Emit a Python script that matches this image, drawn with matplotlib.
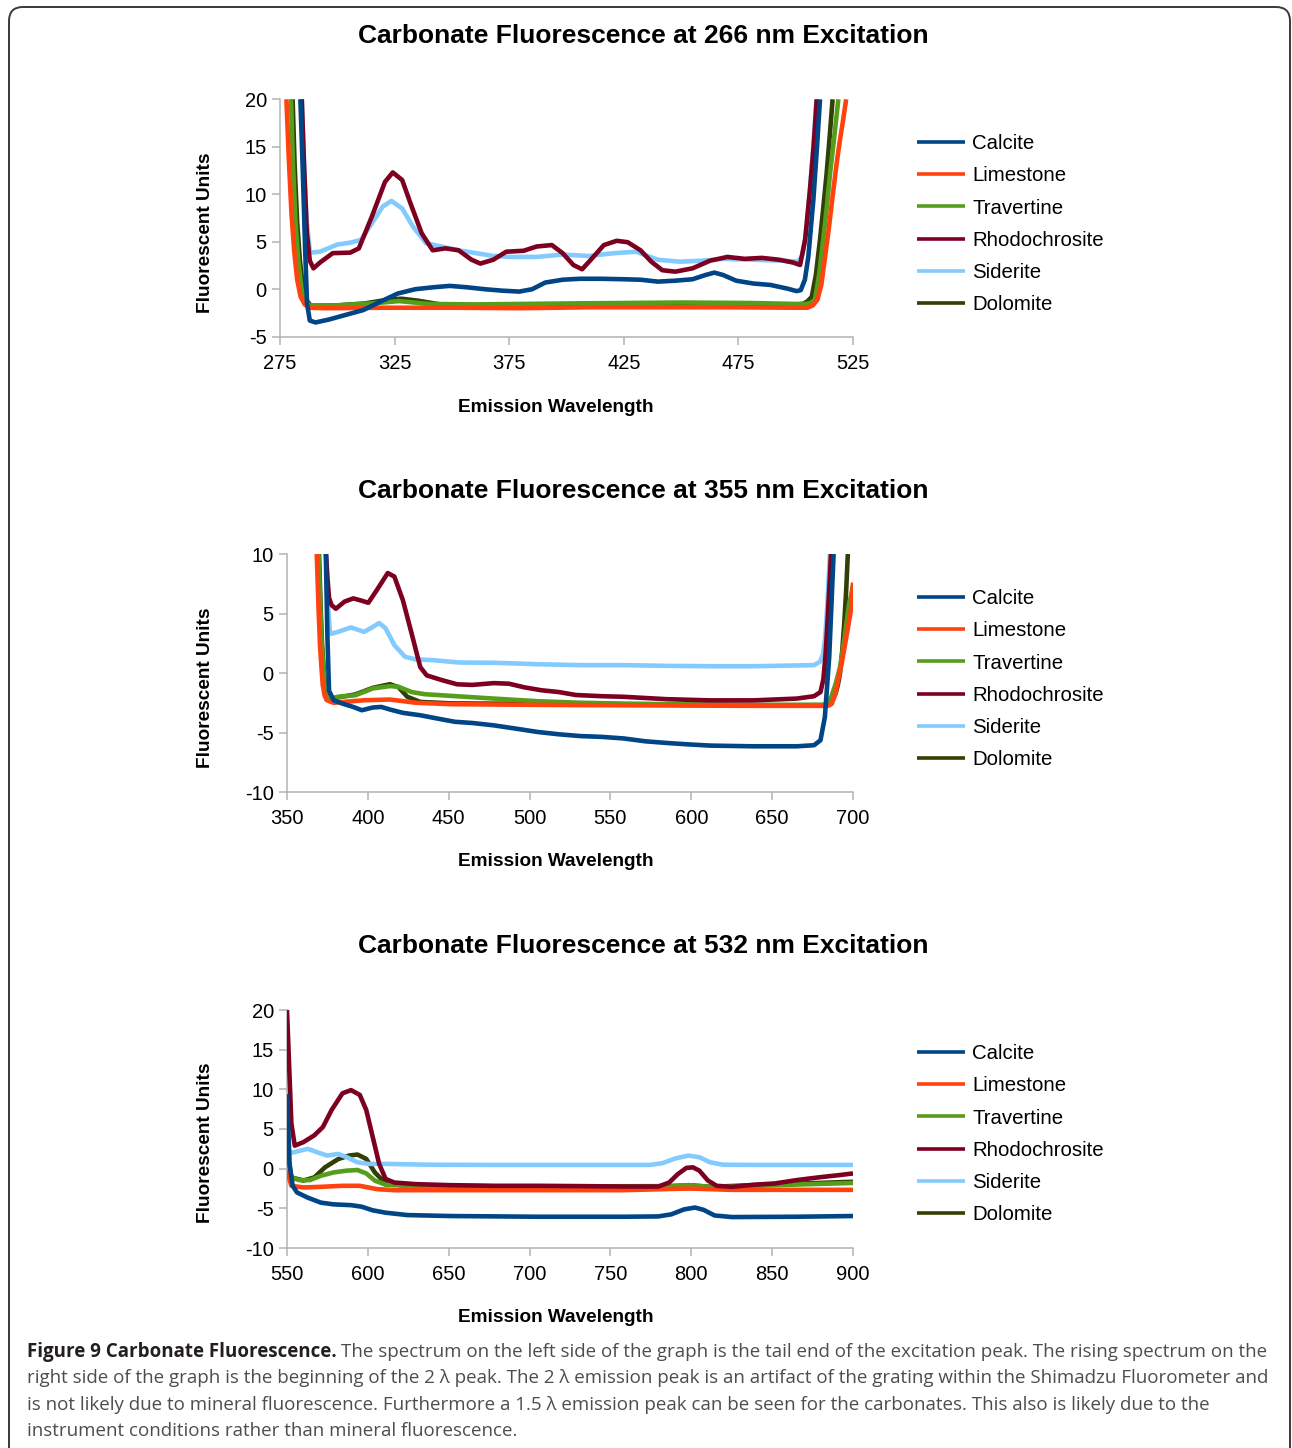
"""Carbonate fluorescence spectra at three excitation wavelengths (Figure 9)."""

import matplotlib

matplotlib.use("Agg")
import matplotlib.pyplot as plt  # noqa: E402
from matplotlib.patches import FancyBboxPatch  # noqa: E402
from matplotlib.transforms import IdentityTransform  # noqa: E402

W, H = 1292, 1448

SERIES = ["Calcite", "Limestone", "Travertine", "Rhodochrosite", "Siderite", "Dolomite"]
COLORS = ["#004586", "#ff420e", "#579d1c", "#7e0021", "#83caff", "#314004"]
ZORDER = [6, 4, 3, 5, 2.5, 2]

TITLES = [
    "Carbonate Fluorescence at 266 nm Excitation",
    "Carbonate Fluorescence at 355 nm Excitation",
    "Carbonate Fluorescence at 532 nm Excitation",
]
XLIMS = [(275, 525), (350, 700), (550, 900)]
XTICKS = [[275, 325, 375, 425, 475, 525],
          [350, 400, 450, 500, 550, 600, 650, 700],
          [550, 600, 650, 700, 750, 800, 850, 900]]
YLIMS = [(-5, 20), (-10, 10), (-10, 20)]
YTICKS = [[-5, 0, 5, 10, 15, 20], [-10, -5, 0, 5, 10], [-10, -5, 0, 5, 10, 15, 20]]

# ---- 266 nm excitation ----
p1_calcite_x = [283.9, 285.0, 286.0, 286.8, 288.0, 290.5, 296.2, 303.7, 311.3, 318.9, 326.4, 334.0,
                341.6, 349.1, 356.7, 364.3, 371.8, 379.4, 385.0, 390.7, 398.3, 405.9, 415.3, 424.8,
                432.3, 439.9, 447.5, 455.0, 460.7, 464.5, 468.3, 474.0, 481.5, 489.0, 496.6, 500.4,
                502.2, 504.0, 505.5, 507.7, 509.3, 510.6]
p1_calcite_y = [20, 12, 4, -1.5, -3.3, -3.5, -3.2, -2.7, -2.2, -1.3, -0.45, 0.0,
                0.2, 0.35, 0.2, 0.0, -0.15, -0.25, 0.0, 0.7, 1.0, 1.1, 1.1, 1.05,
                1.0, 0.8, 0.9, 1.05, 1.5, 1.75, 1.5, 0.9, 0.6, 0.45, 0.05, -0.2,
                -0.1, 1.0, 3.4, 9.4, 15, 20]
p1_limestone_x = [277.8, 278.8, 280.0, 281.2, 282.5, 284.0, 285.8, 288.0, 295, 320, 350, 380, 410,
                  440, 470, 500, 505, 507.5, 509.5, 511.2, 512.8, 514.5, 516.4, 518.0, 519.3,
                  520.8, 522.0]
p1_limestone_y = [20, 14, 8, 4, 1.0, -0.8, -1.6, -1.95, -2.0, -1.95, -1.95, -2.0, -1.9,
                  -1.9, -1.9, -1.95, -1.95, -1.7, -1.1, 0.5, 3.4, 6.5, 10.4, 13.5, 15.7,
                  18, 20]
p1_travertine_x = [279.8, 280.7, 281.8, 283.0, 284.4, 286.0, 288.0, 300, 315, 327, 340, 360, 400,
                   450, 480, 500, 504.5, 506.5, 508.4, 510.2, 512.0, 513.5, 515.0, 516.8, 518.6]
p1_travertine_y = [20, 13, 7, 3, 0, -1.2, -1.7, -1.7, -1.5, -1.25, -1.55, -1.6, -1.5,
                   -1.4, -1.45, -1.55, -1.55, -1.45, -1.1, 1.5, 5.2, 8.5, 12.2, 16, 20]
p1_rhodo_x = [284.5, 285.5, 286.7, 288.0, 289.6, 292.4, 298.0, 305.6, 309.4, 315.0, 320.8, 324.2,
              328.3, 332.0, 336.8, 341.6, 347.2, 352.9, 358.6, 362.4, 368.0, 373.7, 381.3, 387.0,
              393.6, 398.3, 403.0, 406.8, 410.6, 416.3, 421.9, 426.7, 432.3, 437.0, 441.8, 447.5,
              455.0, 462.6, 470.2, 477.7, 485.3, 492.9, 499.0, 501.9, 504.1, 506.2, 507.8, 509.2]
p1_rhodo_y = [20, 13, 6, 3.0, 2.2, 2.8, 3.8, 3.85, 4.3, 7.6, 11.3, 12.3,
              11.5, 9.0, 5.9, 4.1, 4.3, 4.1, 3.1, 2.7, 3.1, 3.95, 4.05, 4.5,
              4.65, 3.8, 2.55, 2.1, 3.1, 4.65, 5.1, 4.95, 4.1, 2.9, 2.0, 1.85,
              2.2, 3.0, 3.4, 3.2, 3.3, 3.1, 2.8, 2.55, 5.2, 10.4, 15, 20]
p1_siderite_x = [284.5, 285.5, 286.7, 288.1, 292.4, 300.0, 305.6, 310.4, 315.0, 319.8, 323.6, 328.3,
                 333.0, 338.7, 345.3, 352.9, 360.5, 368.0, 375.6, 387.0, 398.3, 409.6, 421.0, 430.4,
                 439.9, 449.4, 458.8, 468.3, 481.5, 494.7, 501.0, 502.8, 504.5, 506.2, 507.7, 509.0]
p1_siderite_y = [20, 13, 7, 3.85, 3.95, 4.7, 4.9, 5.2, 6.9, 8.7, 9.3, 8.5,
                 6.6, 4.85, 4.5, 4.1, 3.8, 3.5, 3.4, 3.4, 3.65, 3.5, 3.8, 3.95,
                 3.1, 2.9, 3.0, 3.2, 3.1, 3.0, 2.9, 3.5, 5.8, 10.4, 15, 20]
p1_dolomite_x = [280.5, 281.4, 282.5, 283.7, 285.1, 286.7, 288.5, 300, 312, 322, 328, 335, 345,
                 360, 400, 450, 500, 503, 505, 507, 508.8, 510.6, 512.0, 513.5, 514.8, 516.1]
p1_dolomite_y = [20, 13, 7, 3, 0, -1.2, -1.75, -1.7, -1.5, -1.1, -1.0, -1.2, -1.6,
                 -1.7, -1.65, -1.55, -1.6, -1.55, -1.3, -0.8, 1.5, 5.2, 8.5, 12.2, 16, 20]

# ---- 355 nm excitation ----
p2_calcite_x = [374.0, 375.0, 376.0, 378.9, 384.2, 390.9, 396.3, 403.0, 408.3, 413.7, 421.7, 432.4,
                443.1, 453.8, 464.5, 477.9, 491.3, 504.7, 518.0, 531.4, 544.8, 558.2, 571.6, 584.9,
                598.3, 611.7, 638.4, 665.2, 675.9, 679.9, 682.6, 685.3, 688.0]
p2_calcite_y = [10, 3, -1.5, -2.3, -2.57, -2.85, -3.13, -2.9, -2.85, -3.07, -3.35, -3.55,
                -3.83, -4.1, -4.2, -4.4, -4.67, -4.95, -5.15, -5.3, -5.37, -5.5, -5.74, -5.88,
                -6.0, -6.1, -6.16, -6.16, -6.07, -5.65, -3.7, 1.36, 10]
p2_limestone_x = [368.4, 369.5, 370.4, 371.3, 372.1, 373.3, 374.5, 377.6, 378.9, 397.6, 413.7,
                  429.7, 451.1, 477.9, 531.4, 584.9, 638.4, 681.3, 684.5, 686.8, 689.0, 691.0,
                  693.0, 695.0, 697.0, 699.2, 700.0]
p2_limestone_y = [10, 5.5, 2.35, 0.5, -1.0, -1.9, -2.27, -2.45, -2.5, -2.29, -2.23,
                  -2.5, -2.62, -2.65, -2.7, -2.73, -2.76, -2.76, -2.75, -2.6, -1.8, -0.45,
                  0.8, 2.35, 3.9, 5.7, 7.6]
p2_travertine_x = [369.5, 370.6, 371.5, 372.4, 373.3, 374.5, 376.0, 381.6, 392.3, 403.0, 413.7,
                   419.0, 427.1, 435.1, 451.1, 477.9, 504.7, 531.4, 558.2, 584.9, 638.4, 681.3,
                   684.0, 686.6, 689.3, 692.0, 694.6, 697.3, 700.0]
p2_travertine_y = [10, 5.5, 2.35, 0.5, -1.0, -1.9, -2.2, -2.0, -1.87, -1.3, -1.1,
                   -1.16, -1.6, -1.78, -1.92, -2.15, -2.37, -2.5, -2.57, -2.62, -2.68, -2.68,
                   -2.6, -2.0, -0.9, 0.5, 2.8, 5.57, 7.3]
p2_rhodo_x = [374.1, 375.0, 376.0, 377.6, 380.2, 385.6, 391.0, 396.3, 400.3, 405.7, 412.3, 416.4,
              421.7, 427.1, 432.4, 436.4, 445.8, 455.2, 464.5, 477.9, 487.3, 496.6, 507.3, 518.0,
              528.7, 544.8, 558.2, 584.9, 611.7, 638.4, 665.2, 675.9, 679.9, 681.7, 683.0, 684.3,
              685.5, 686.4]
p2_rhodo_y = [10, 8, 6.3, 5.7, 5.4, 6.0, 6.27, 6.07, 5.9, 7.0, 8.4, 8.1,
              6.1, 3.3, 0.5, -0.2, -0.6, -0.95, -1.0, -0.85, -0.9, -1.2, -1.45, -1.6,
              -1.85, -1.95, -2.0, -2.2, -2.3, -2.3, -2.15, -1.95, -1.6, -0.5, 1.5, 4.5,
              7.5, 10]
p2_siderite_x = [374.3, 375.2, 376.6, 377.6, 381.6, 389.6, 397.6, 401.6, 407.0, 411.0, 416.4, 423.0,
                 429.7, 440.4, 456.5, 477.9, 504.7, 531.4, 558.2, 584.9, 611.7, 638.4, 675.9, 679.6,
                 681.5, 682.7, 683.8, 684.8, 685.7]
p2_siderite_y = [10, 6, 3.34, 3.3, 3.46, 3.83, 3.46, 3.75, 4.2, 3.75, 2.34, 1.36,
                 1.14, 1.08, 0.88, 0.86, 0.74, 0.66, 0.66, 0.6, 0.57, 0.57, 0.66, 0.95,
                 1.6, 2.9, 5.0, 7.5, 10]
p2_dolomite_x = [369.8, 370.8, 371.7, 372.6, 373.5, 374.7, 376.2, 381.6, 392.3, 403.0, 413.7, 419.0,
                 424.4, 432.4, 451.1, 504.7, 558.2, 638.4, 681.3, 685.0, 687.3, 689.3, 690.8, 692.0,
                 693.3, 694.6, 695.8, 696.8]
p2_dolomite_y = [10, 5.5, 2.35, 0.5, -1.0, -1.9, -2.2, -2.05, -1.8, -1.25, -0.94, -1.2,
                 -2.0, -2.43, -2.55, -2.6, -2.65, -2.7, -2.7, -2.6, -2.3, -1.7, -0.9, 0.0,
                 1.8, 4.2, 7.0, 10]

# ---- 532 nm excitation ----
p3_calcite_x = [550.0, 551.6, 553.5, 556.2, 562.8, 570.9, 578.9, 589.6, 596.3, 603.0, 611.0, 624.4,
                651.1, 704.7, 758.2, 779.6, 787.6, 795.6, 802.3, 807.7, 814.4, 825.1, 865.2, 900.0]
p3_calcite_y = [9.4, 0.6, -2.16, -3.0, -3.65, -4.28, -4.5, -4.6, -4.8, -5.25, -5.55, -5.85,
                -5.97, -6.06, -6.06, -6.02, -5.76, -5.13, -4.9, -5.2, -5.9, -6.1, -6.06, -5.97]
p3_limestone_x = [550.0, 552.7, 560.2, 570.9, 584.3, 595.0, 605.7, 616.4, 651.1, 758.2, 798.3,
                  825.1, 900.0]
p3_limestone_y = [-0.25, -2.16, -2.37, -2.29, -2.16, -2.16, -2.58, -2.71, -2.71, -2.71, -2.5,
                  -2.67, -2.67]
p3_travertine_x = [550.0, 552.7, 557.5, 564.2, 570.9, 578.9, 586.9, 593.6, 599.0, 604.3, 611.0,
                   624.4, 704.7, 784.9, 798.3, 811.7, 838.4, 900.0]
p3_travertine_y = [2.4, -1.1, -1.44, -1.44, -0.9, -0.47, -0.25, -0.17, -0.6, -1.5, -2.03,
                   -2.16, -2.25, -2.2, -2.08, -2.29, -2.16, -1.8]
p3_rhodo_x = [550.0, 552.7, 554.8, 560.2, 566.9, 572.2, 577.6, 584.3, 589.6, 595.0, 599.0, 603.0,
              607.0, 611.0, 616.4, 629.7, 651.1, 677.9, 704.7, 731.4, 758.2, 779.6, 786.3, 791.6,
              797.0, 801.0, 805.0, 810.3, 815.7, 825.1, 838.4, 851.8, 865.2, 878.6, 892.0, 900.0]
p3_rhodo_y = [20, 5.7, 2.9, 3.35, 4.2, 5.25, 7.4, 9.5, 9.9, 9.3, 7.4, 4.0,
              0.6, -1.3, -1.75, -1.95, -2.08, -2.16, -2.16, -2.2, -2.25, -2.25, -1.75, -0.7,
              0.1, 0.17, -0.25, -1.5, -2.16, -2.29, -2.03, -1.86, -1.44, -1.1, -0.8, -0.6]
p3_siderite_x = [550.0, 554.8, 562.8, 568.2, 574.9, 581.6, 587.0, 593.6, 600.3, 611.0, 637.8, 677.9,
                 731.4, 774.2, 782.3, 790.3, 798.3, 805.0, 811.7, 819.7, 838.4, 900.0]
p3_siderite_y = [1.9, 2.1, 2.5, 2.1, 1.65, 1.86, 1.44, 0.8, 0.6, 0.6, 0.5, 0.47,
                 0.47, 0.47, 0.7, 1.3, 1.65, 1.44, 0.8, 0.5, 0.47, 0.47]
p3_dolomite_x = [550.0, 552.7, 560.2, 566.9, 573.5, 581.6, 588.3, 593.6, 599.0, 604.3, 611.0, 624.4,
                 704.7, 784.9, 798.3, 811.7, 838.4, 900.0]
p3_dolomite_y = [0.6, -1.1, -1.5, -1.1, 0.17, 1.2, 1.65, 1.78, 1.23, -0.47, -1.86, -2.16,
                 -2.25, -2.25, -2.08, -2.29, -2.08, -1.65]

PANELS = [
    [(p1_calcite_x, p1_calcite_y), (p1_limestone_x, p1_limestone_y),
     (p1_travertine_x, p1_travertine_y), (p1_rhodo_x, p1_rhodo_y),
     (p1_siderite_x, p1_siderite_y), (p1_dolomite_x, p1_dolomite_y)],
    [(p2_calcite_x, p2_calcite_y), (p2_limestone_x, p2_limestone_y),
     (p2_travertine_x, p2_travertine_y), (p2_rhodo_x, p2_rhodo_y),
     (p2_siderite_x, p2_siderite_y), (p2_dolomite_x, p2_dolomite_y)],
    [(p3_calcite_x, p3_calcite_y), (p3_limestone_x, p3_limestone_y),
     (p3_travertine_x, p3_travertine_y), (p3_rhodo_x, p3_rhodo_y),
     (p3_siderite_x, p3_siderite_y), (p3_dolomite_x, p3_dolomite_y)],
]

CAPTION_BOLD = "Figure 9 Carbonate Fluorescence."
CAPTION_LINES = [
    "The spectrum on the left side of the graph is the tail end of the excitation peak. "
    "The rising spectrum on the",
    "right side of the graph is the beginning of the 2 \u03bb peak. The 2 \u03bb emission peak is an "
    "artifact of the grating within the Shimadzu Fluorometer and",
    "is not likely due to mineral fluorescence. Furthermore a 1.5 \u03bb emission peak can be seen "
    "for the carbonates. This also is likely due to the",
    "instrument conditions rather than mineral fluorescence.",
]

# layout in pixels (left, top, right, bottom)
AX_BOXES = [(280, 99.3, 853, 336.7), (287, 554, 853, 792), (287, 1010, 853, 1248)]
PANEL_TOPS = [0, 455, 910]

_AXIS = "#b3b3b3"
plt.rcParams["font.family"] = ["Liberation Sans", "DejaVu Sans"]
plt.rcParams["axes.unicode_minus"] = False

fig = plt.figure(figsize=(W / 100, H / 100), dpi=100)


def fx(px):
    return px / W


def fy(py):
    return 1 - py / H


for i, (box, top) in enumerate(zip(AX_BOXES, PANEL_TOPS)):
    l, t, r, b = box
    ax = fig.add_axes([fx(l), fy(b), (r - l) / W, (b - t) / H])
    handles = []
    for name, color, z, (xs, ys) in zip(SERIES, COLORS, ZORDER, PANELS[i]):
        (ln,) = ax.plot(xs, ys, color=color, lw=3.3, zorder=z, label=name,
                        solid_joinstyle="round", solid_capstyle="butt")
        handles.append(ln)
    ax.set_xlim(*XLIMS[i])
    ax.set_ylim(*YLIMS[i])
    ax.set_xticks(XTICKS[i])
    ax.set_yticks(YTICKS[i])
    for s in ("top", "right"):
        ax.spines[s].set_visible(False)
    for s in ("left", "bottom"):
        ax.spines[s].set_color(_AXIS)
        ax.spines[s].set_linewidth(1.1)
    ax.tick_params(axis="both", direction="out", length=5.5, width=1.1, color=_AXIS,
                   labelsize=14.5, labelcolor="black")
    ax.tick_params(axis="x", pad=7)
    ax.tick_params(axis="y", pad=4)

    fig.text(fx(643), fy(top + 36), TITLES[i], ha="center", va="center",
             fontsize=19, fontweight="bold")
    fig.text(fx(556), fy(top + 407), "Emission Wavelength", ha="center", va="center",
             fontsize=13.7, fontweight="bold")
    fig.text(fx(206), fy(top + 233), "Fluorescent Units", ha="center", va="center",
             rotation=90, fontsize=13.7, fontweight="bold")

    leg = ax.legend(handles=handles, loc="upper left",
                    bbox_to_anchor=(fx(917), fy(top + 134)), bbox_transform=fig.transFigure,
                    frameon=False, fontsize=14.7, handlelength=2.35, handletextpad=0.35,
                    labelspacing=0.65, borderpad=0, borderaxespad=0)
    for hl in leg.get_lines():
        hl.set_linewidth(2.6)

# caption
cap_family = ["Open Sans", "DejaVu Sans"]
cap_ys = [1352, 1378, 1405, 1431]
renderer = fig.canvas.get_renderer()
probe = fig.text(fx(27), fy(cap_ys[1]), CAPTION_LINES[1], fontsize=12, family=cap_family,
                 va="center")
fs = 12 * 1238 / probe.get_window_extent(renderer).width
probe.set_fontsize(fs)
probe.set_color("#4d4d4d")

tb = fig.text(fx(27), fy(cap_ys[0]), CAPTION_BOLD, fontsize=fs, family=cap_family,
              fontweight="bold", va="center", color="#231f20")
x1 = tb.get_window_extent(renderer).x1 + fs * 0.3
fig.text(x1 / W, fy(cap_ys[0]), CAPTION_LINES[0], fontsize=fs, family=cap_family,
         va="center", color="#4d4d4d")
for line, y in zip(CAPTION_LINES[2:], cap_ys[2:]):
    fig.text(fx(27), fy(y), line, fontsize=fs, family=cap_family, va="center", color="#4d4d4d")

# rounded frame around the figure (bottom edge falls off the page)
frame = FancyBboxPatch((9, -40), 1281, H - 7 + 40, boxstyle="round,pad=0,rounding_size=14",
                       transform=IdentityTransform(), fill=False, ec="#3a3a3a", lw=1.4)
fig.add_artist(frame)

fig.savefig("out.png", dpi=100)
